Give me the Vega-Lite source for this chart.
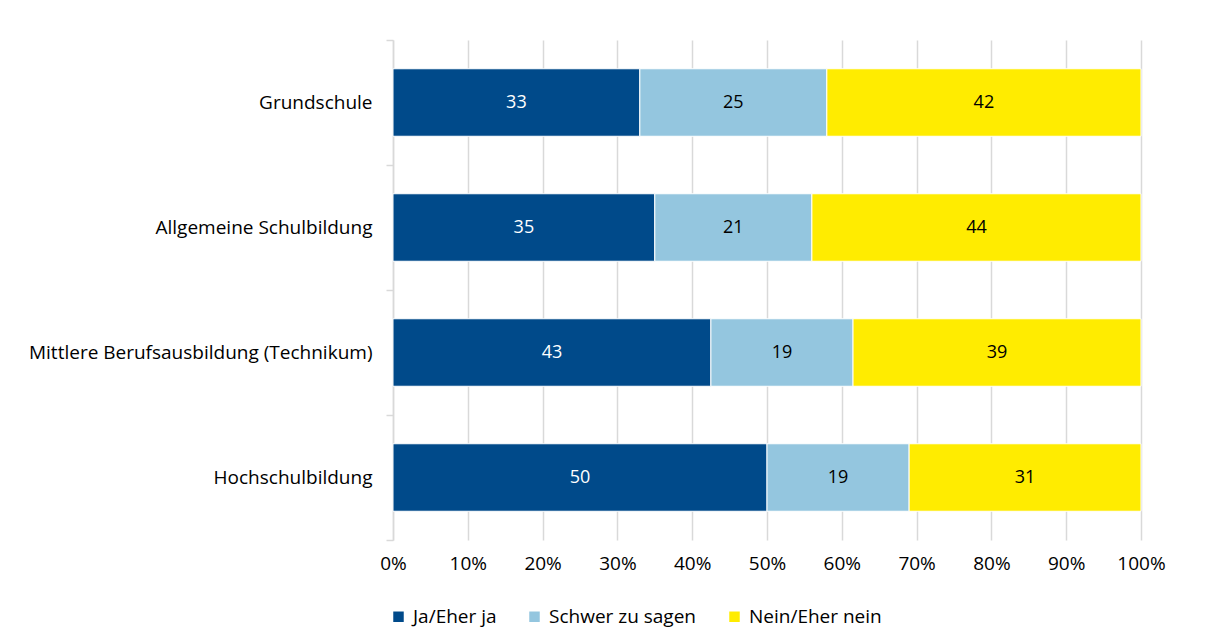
{
  "$schema": "https://vega.github.io/schema/vega-lite/v6.json",
  "width": 748,
  "height": 500,
  "autosize": "none",
  "padding": {"left": 393, "top": 40, "right": 73, "bottom": 102},
  "background": "white",
  "config": {"view": {"stroke": null}, "font": "Open Sans"},
  "data": {
    "values": [
      {"cat": "Grundschule", "resp": "Ja/Eher ja", "o": 1, "value": 33},
      {"cat": "Grundschule", "resp": "Schwer zu sagen", "o": 2, "value": 25},
      {"cat": "Grundschule", "resp": "Nein/Eher nein", "o": 3, "value": 42},
      {"cat": "Allgemeine Schulbildung", "resp": "Ja/Eher ja", "o": 1, "value": 35},
      {"cat": "Allgemeine Schulbildung", "resp": "Schwer zu sagen", "o": 2, "value": 21},
      {"cat": "Allgemeine Schulbildung", "resp": "Nein/Eher nein", "o": 3, "value": 44},
      {"cat": "Mittlere Berufsausbildung (Technikum)", "resp": "Ja/Eher ja", "o": 1, "value": 42.5},
      {"cat": "Mittlere Berufsausbildung (Technikum)", "resp": "Schwer zu sagen", "o": 2, "value": 19},
      {"cat": "Mittlere Berufsausbildung (Technikum)", "resp": "Nein/Eher nein", "o": 3, "value": 38.5},
      {"cat": "Hochschulbildung", "resp": "Ja/Eher ja", "o": 1, "value": 50},
      {"cat": "Hochschulbildung", "resp": "Schwer zu sagen", "o": 2, "value": 19},
      {"cat": "Hochschulbildung", "resp": "Nein/Eher nein", "o": 3, "value": 31}
    ]
  },
  "transform": [
    {"stack": "value", "groupby": ["cat"], "sort": [{"field": "o"}], "as": ["v0", "v1"]},
    {"calculate": "(datum.v0 + datum.v1) / 2", "as": "mid"}
  ],
  "encoding": {
    "y": {
      "field": "cat",
      "type": "nominal",
      "sort": ["Grundschule", "Allgemeine Schulbildung", "Mittlere Berufsausbildung (Technikum)", "Hochschulbildung"],
      "scale": {"paddingInner": 0, "paddingOuter": 0},
      "axis": {
        "title": null,
        "tickBand": "extent",
        "tickSize": 7,
        "tickColor": "#D9D9D9",
        "tickWidth": 1.5,
        "domainColor": "#D9D9D9",
        "domainWidth": 1.5,
        "labelPadding": 14,
        "labelFontSize": 19,
        "labelColor": "#000000",
        "labelLimit": 400
      }
    }
  },
  "layer": [
    {
      "mark": {"type": "bar", "stroke": "white", "strokeWidth": 1, "height": {"band": 0.54}},
      "encoding": {
        "x": {
          "field": "v0",
          "type": "quantitative",
          "scale": {"domain": [0, 100]},
          "axis": {
            "title": null,
            "values": [0, 10, 20, 30, 40, 50, 60, 70, 80, 90, 100],
            "labelExpr": "datum.value + '%'",
            "labelFlush": false,
            "grid": true,
            "gridColor": "#D9D9D9",
            "gridWidth": 1.5,
            "domain": false,
            "ticks": false,
            "labelPadding": 14,
            "labelFontSize": 19,
            "labelColor": "#000000"
          }
        },
        "x2": {"field": "v1"},
        "color": {
          "field": "resp",
          "type": "nominal",
          "sort": ["Ja/Eher ja", "Schwer zu sagen", "Nein/Eher nein"],
          "scale": {
            "domain": ["Ja/Eher ja", "Schwer zu sagen", "Nein/Eher nein"],
            "range": ["#004A8A", "#94C6DF", "#FFEC00"]
          },
          "legend": {
            "title": null,
            "orient": "none",
            "legendX": -4,
            "legendY": 567,
            "direction": "horizontal",
            "symbolType": "square",
            "symbolSize": 110,
            "symbolStrokeWidth": 0,
            "labelFontSize": 19,
            "labelColor": "#000000",
            "labelOffset": 5,
            "columnPadding": 28
          }
        }
      }
    },
    {
      "mark": {"type": "text", "fontSize": 18},
      "encoding": {
        "x": {"field": "mid", "type": "quantitative"},
        "text": {"field": "value", "type": "quantitative", "format": ".0f"},
        "color": {"condition": {"test": "datum.o == 1", "value": "white"}, "value": "black"}
      }
    }
  ]
}
